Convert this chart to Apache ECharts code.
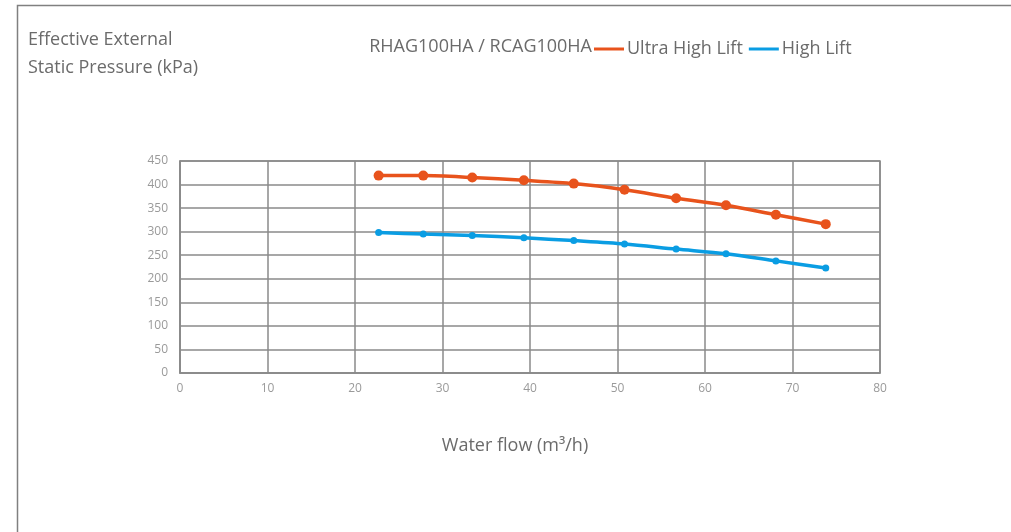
<!DOCTYPE html>
<html>
<head>
<meta charset="utf-8">
<script src="https://cdn.jsdelivr.net/npm/echarts@6/dist/echarts.min.js"></script>
<style>
  html, body { margin: 0; padding: 0; background: #fff; }
  #chart { width: 1011px; height: 532px; }
</style>
</head>
<body>
<div id="chart"></div>
<script>
// water flow (m3/h) at each measured point
const flow = [22.7, 27.8, 33.4, 39.3, 45.0, 50.8, 56.7, 62.4, 68.1, 73.8]
// static pressure (kPa)
const ultraHighLift = [419, 419, 415, 409, 402, 389, 371, 356, 336, 316]
const highLift = [298, 295, 292, 287, 281, 274, 263, 253, 238, 223]

const toPoints = (ys) => flow.map((x, i) => [x, ys[i]])

const chart = echarts.init(document.getElementById('chart'))
const textColor = '#6b6b6b'
const font = 'Open Sans'

chart.setOption({
  animation: false,
  textStyle: { fontFamily: font },
  grid: {
    left: 180,
    right: 131,
    top: 161,
    bottom: 159,
    show: true,
    borderColor: '#8a8a8a',
    borderWidth: 1.5
  },
  // 外框
  graphic: [
    {
      type: 'polyline',
      shape: { points: [[17.5, 532], [17.5, 5.5], [1011, 5.5]] },
      style: { stroke: '#808080', lineWidth: 1.5, fill: null }
    },
    {
      type: 'text',
      left: 28,
      top: 26,
      style: {
        text: 'Effective External\nStatic Pressure (kPa)',
        fill: textColor,
        font: '18px "Open Sans"',
        lineHeight: 28
      }
    },
    {
      type: 'text',
      x: 592,
      y: 47,
      style: {
        text: 'RHAG100HA / RCAG100HA',
        fill: textColor,
        font: '18px "Open Sans"',
        align: 'right',
        verticalAlign: 'middle'
      }
    }
  ],
  legend: {
    left: 589,
    top: 35,
    icon: 'rect',
    itemWidth: 30,
    itemHeight: 3,
    itemGap: 6,
    textStyle: { color: textColor, fontSize: 18, fontFamily: font, padding: [0, 0, 0, -2] },
    data: ['Ultra High Lift', 'High Lift']
  },
  xAxis: {
    type: 'value',
    min: 0,
    max: 80,
    interval: 10,
    name: 'Water flow (m³/h)',
    nameLocation: 'middle',
    nameGap: 64,
    nameTextStyle: { color: textColor, fontSize: 18, padding: [0, 30, 0, 0] },
    axisLine: { lineStyle: { color: '#8a8a8a', width: 1.5 } },
    axisTick: { show: false },
    axisLabel: { color: '#9a9a9a', fontSize: 12, margin: 10 },
    splitLine: { lineStyle: { color: '#8a8a8a', width: 1.5 } }
  },
  yAxis: {
    type: 'value',
    min: 0,
    max: 450,
    interval: 50,
    axisLine: { show: true, lineStyle: { color: '#8a8a8a', width: 1.5 } },
    axisTick: { show: false },
    axisLabel: { color: '#9a9a9a', fontSize: 12, margin: 12 },
    splitLine: { lineStyle: { color: '#8a8a8a', width: 1.5 } }
  },
  series: [
    {
      name: 'Ultra High Lift',
      type: 'line',
      data: toPoints(ultraHighLift),
      smooth: 0.3,
      symbol: 'circle',
      symbolSize: 10,
      itemStyle: { color: '#e8531c' },
      lineStyle: { color: '#e8531c', width: 3.5 }
    },
    {
      name: 'High Lift',
      type: 'line',
      data: toPoints(highLift),
      smooth: 0.3,
      symbol: 'circle',
      symbolSize: 7,
      itemStyle: { color: '#0a9de3' },
      lineStyle: { color: '#0a9de3', width: 3.5 }
    }
  ]
})
</script>
</body>
</html>
